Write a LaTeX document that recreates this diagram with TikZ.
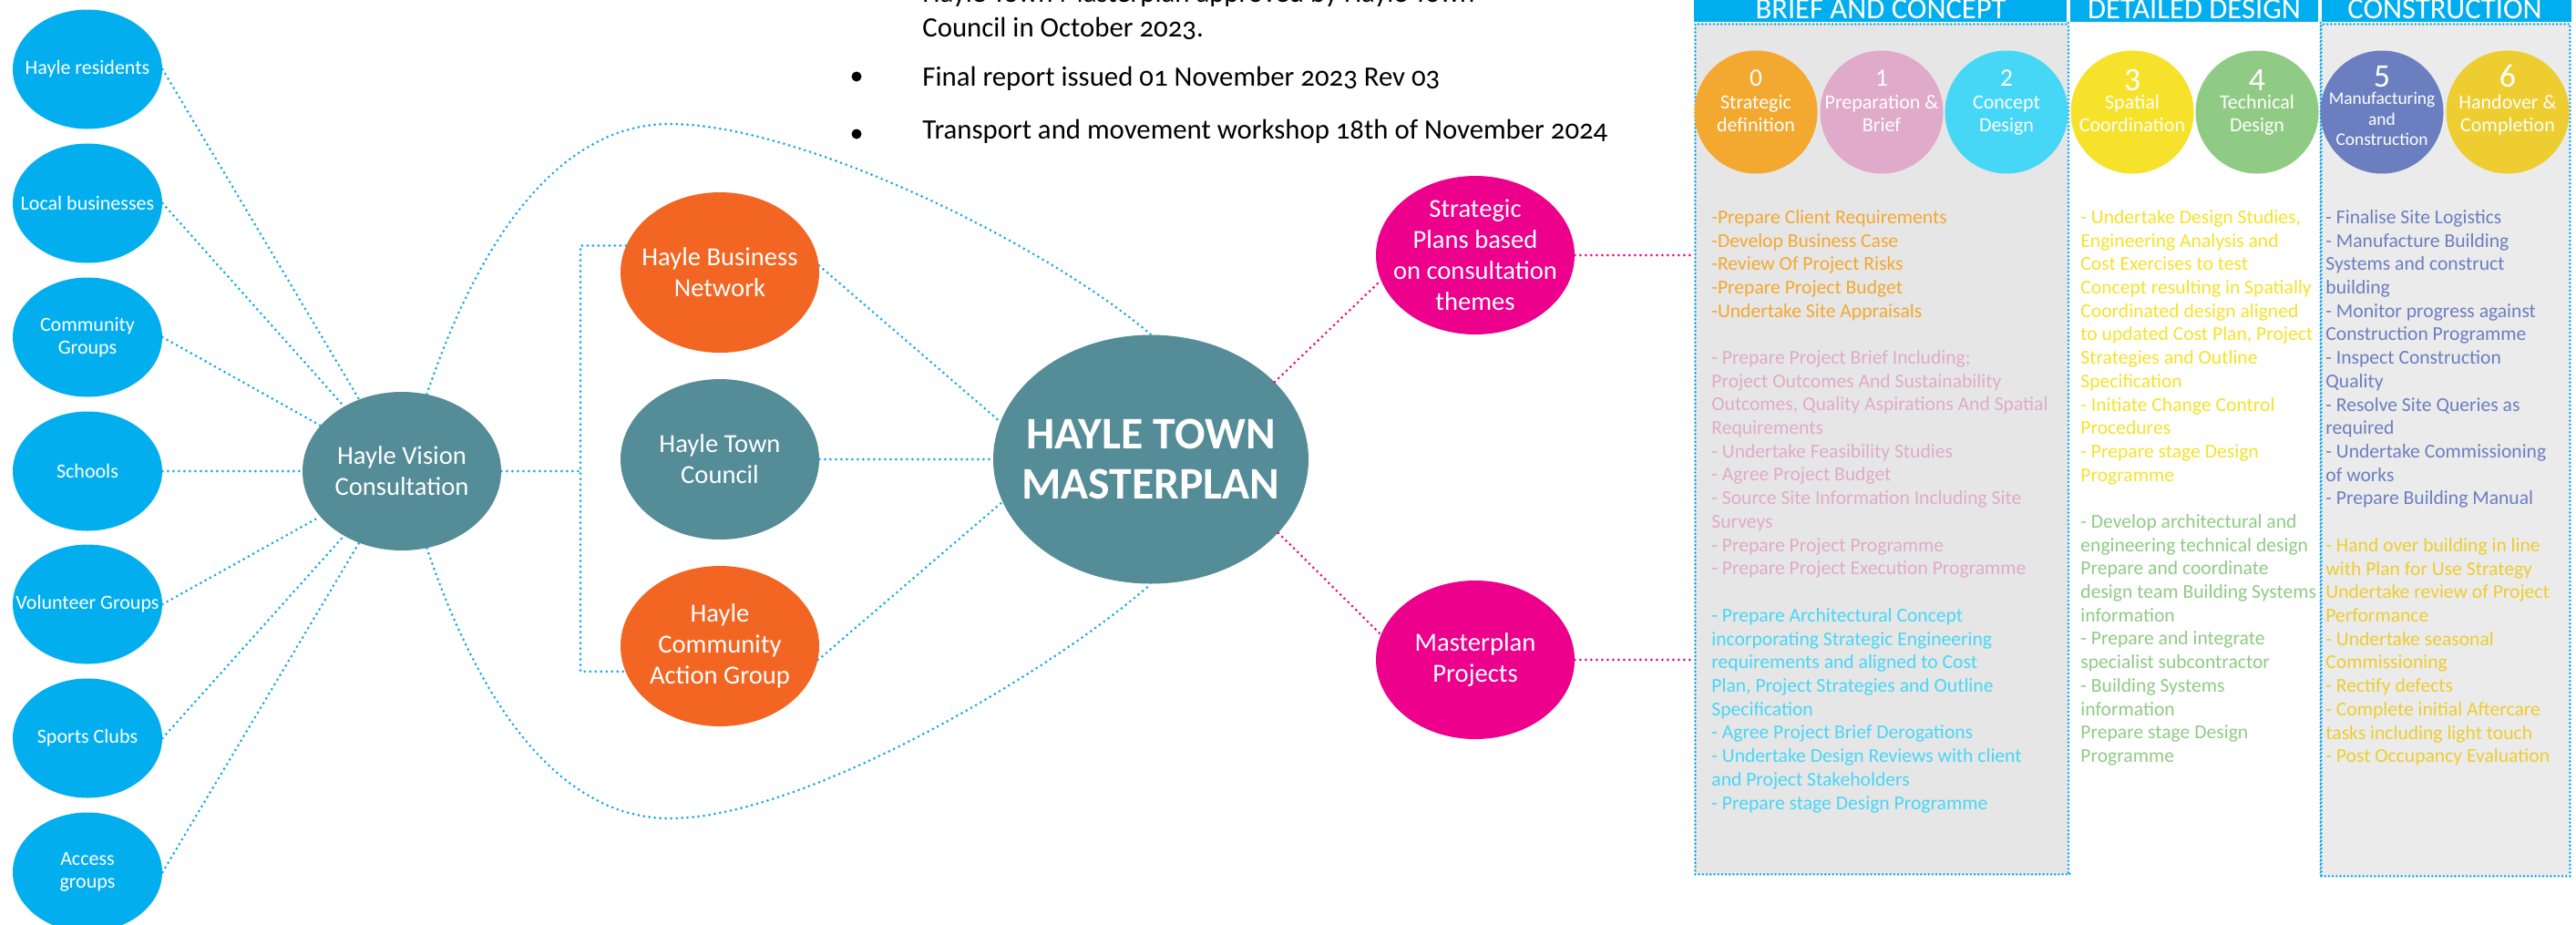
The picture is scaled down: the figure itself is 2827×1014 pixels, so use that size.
\documentclass[tikz,border=0pt]{standalone}
\usepackage{fontspec}
\setmainfont{Carlito}
\newfontfamily\oldnum{Carlito}[Numbers=OldStyle]
\usetikzlibrary{shapes.geometric,calc}
\definecolor{cblue}{HTML}{03AEEF}
\definecolor{lblue}{HTML}{0FA8EC}
\definecolor{teal}{HTML}{548C97}
\definecolor{orng}{HTML}{F26522}
\definecolor{pinkc}{HTML}{EC008C}
\definecolor{hblue}{HTML}{00AEEF}
\definecolor{pgrey}{HTML}{E6E6E6}
\definecolor{pgreyb}{HTML}{EBEBEB}
\definecolor{sa}{HTML}{F3A82F}
\definecolor{sb}{HTML}{E0AACA}
\definecolor{sc}{HTML}{46D7F6}
\definecolor{sd}{HTML}{F6E22A}
\definecolor{se}{HTML}{8FCB84}
\definecolor{sf}{HTML}{6B7FC0}
\definecolor{sg}{HTML}{EDCD2F}
\begin{document}
\begin{tikzpicture}[x=0.5pt,y=-0.5pt,
  bdot/.style={draw=lblue,line width=1.5pt,dash pattern=on 0pt off 3pt,line cap=round},
  pdot/.style={draw=pinkc,line width=1.5pt,dash pattern=on 0pt off 3pt,line cap=round},
  pbord/.style={draw=lblue,line width=1.4pt,dash pattern=on 0pt off 2.1pt,line cap=round},
  bub/.style={ellipse,inner sep=0pt},
  leftc/.style={bub,fill=cblue,minimum width=82pt,minimum height=65.5pt},
  midc/.style={bub,minimum width=109pt,minimum height=88pt},
  ltxt/.style={text=white,align=center,inner sep=0pt,font=\fontsize{11}{12.5}\selectfont},
  mtxt/.style={text=white,align=center,inner sep=0pt,font=\fontsize{14.3}{17}\selectfont},
  stage/.style={circle,inner sep=0pt,minimum size=67.5pt},
  snum/.style={text=white,inner sep=0pt,anchor=base,font=\fontsize{13.7}{14}\selectfont},
  bnum/.style={snum,font=\fontsize{18}{18}\selectfont},
  slab/.style={text=white,align=center,inner sep=0pt,anchor=north,font=\fontsize{11}{12.5}\selectfont},
  ptext/.style={anchor=north west,inner sep=0pt,align=left,font=\fontsize{10.8}{12.85}\selectfont},
  htxt/.style={text=white,inner sep=0pt,anchor=base,font=\fontsize{16.3}{18}\selectfont},
  btxt/.style={inner sep=0pt,anchor=base west,font=\oldnum\fontsize{15.4}{18}\selectfont},
  panel/.style={pbord,anchor=north west,inner sep=0pt}]
\useasboundingbox (0,0) rectangle (2827,1014);
\clip (0,0) rectangle (2827,1014);

% ---------- top bullets ----------
\node[btxt] (b0) at (1012,2) {Hayle Town Masterplan approved by Hayle Town};
\node[btxt] (b1) at (1012,40) {Council in October 2023.};
\node[btxt] (b2) at (1012,94) {Final report issued 01 November 2023 Rev 03};
\node[btxt] (b3) at (1012,152) {Transport and movement workshop 18th of November 2024};
\node[circle,fill=black,inner sep=0pt,minimum size=5.5pt] (d2) at (940,84) {};
\node[circle,fill=black,inner sep=0pt,minimum size=5.5pt] (d3) at (940,147) {};

% ---------- panels ----------
\node[panel,fill=pgrey,minimum width=205.5pt,minimum height=466.5pt] (brief) at (1859,25) {};
\node[inner sep=0pt,anchor=north west,fill=white,minimum width=138pt,minimum height=466.5pt] (detail) at (2270,25) {};
\draw[pbord] (detail.north west) -- (detail.south west);
\draw[pbord] (detail.north east) -- (detail.south east);
\node[panel,fill=pgreyb,minimum width=136.5pt,minimum height=467.5pt] (constr) at (2546,25) {};

\fill[hblue] (1859,-10) rectangle (2268,24);
\fill[hblue] (2272,-10) rectangle (2544,24);
\fill[hblue] (2548,-10) rectangle (2822,24);
\node[htxt] (h1) at (2064,20) {BRIEF AND CONCEPT};
\node[htxt] (h2) at (2408,20) {DETAILED DESIGN};
\node[htxt] (h3) at (2683,20) {CONSTRUCTION};

% stage circles
\node[stage,fill=sa] (s0) at (1927,123) {};
\node[stage,fill=sb] (s1) at (2065,123) {};
\node[stage,fill=sc] (s2) at (2202,123) {};
\node[stage,fill=sd] (s3) at (2340,123) {};
\node[stage,fill=se] (s4) at (2477,123) {};
\node[stage,fill=sf] (s5) at (2614,123) {};
\node[stage,fill=sg] (s6) at (2752,123) {};
\node[snum] at (1927,94) {0};
\node[snum] at (2065,94) {1};
\node[snum] at (2202,94) {2};
\node[bnum] at (2340,99) {3};
\node[bnum] at (2477,99) {4};
\node[bnum] at (2614,95) {5};
\node[bnum] at (2752,95) {6};
\node[slab] at (1927,101) {\rule{0pt}{9pt}Strategic\\definition};
\node[slab] at (2065,101) {\rule{0pt}{9pt}Preparation \&\\Brief};
\node[slab] at (2202,101) {\rule{0pt}{9pt}Concept\\Design};
\node[slab] at (2340,101) {\rule{0pt}{9pt}Spatial\\Coordination};
\node[slab] at (2477,101) {\rule{0pt}{9pt}Technical\\Design};
\node[slab,font=\fontsize{9.7}{11.3}\selectfont] at (2614,98) {\rule{0pt}{8pt}Manufacturing\\and\\Construction};
\node[slab] at (2752,101) {\rule{0pt}{9pt}Handover \&\\Completion};

% panel texts
\node[ptext,text=sa] at (1878,227) {\rule{0pt}{9pt}-Prepare Client Requirements\\-Develop Business Case\\-Review Of Project Risks\\-Prepare Project Budget\\-Undertake Site Appraisals};
\node[ptext,text=sb] at (1878,381) {\rule{0pt}{9pt}- Prepare Project Brief Including;\\Project Outcomes And Sustainability\\Outcomes, Quality Aspirations And Spatial\\Requirements\\- Undertake Feasibility Studies\\- Agree Project Budget\\- Source Site Information Including Site\\Surveys\\- Prepare Project Programme\\- Prepare Project Execution Programme};
\node[ptext,text=sc] at (1878,664) {\rule{0pt}{9pt}- Prepare Architectural Concept\\incorporating Strategic Engineering\\requirements and aligned to Cost\\Plan, Project Strategies and Outline\\Specification\\- Agree Project Brief Derogations\\- Undertake Design Reviews with client\\and Project Stakeholders\\- Prepare stage Design Programme};
\node[ptext,text=sd] at (2283,227) {\rule{0pt}{9pt}- Undertake Design Studies,\\Engineering Analysis and\\Cost Exercises to test\\Concept resulting in Spatially\\Coordinated design aligned\\to updated Cost Plan, Project\\Strategies and Outline\\Specification\\- Initiate Change Control\\Procedures\\- Prepare stage Design\\Programme};
\node[ptext,text=se] at (2283,561) {\rule{0pt}{9pt}- Develop architectural and\\engineering technical design\\Prepare and coordinate\\design team Building Systems\\information\\- Prepare and integrate\\specialist subcontractor\\- Building Systems\\information\\Prepare stage Design\\Programme};
\node[ptext,text=sf] at (2552,227) {\rule{0pt}{9pt}- Finalise Site Logistics\\- Manufacture Building\\Systems and construct\\building\\- Monitor progress against\\Construction Programme\\- Inspect Construction\\Quality\\- Resolve Site Queries as\\required\\- Undertake Commissioning\\of works\\- Prepare Building Manual};
\node[ptext,text=sg] at (2552,587) {\rule{0pt}{9pt}- Hand over building in line\\with Plan for Use Strategy\\Undertake review of Project\\Performance\\- Undertake seasonal\\Commissioning\\- Rectify defects\\- Complete initial Aftercare\\tasks including light touch\\- Post Occupancy Evaluation};

% ---------- left circles ----------
\node[leftc] (l1) at (96,76) {};
\node[leftc] (l2) at (96,223) {};
\node[leftc] (l3) at (96,370) {};
\node[leftc] (l4) at (96,517) {};
\node[leftc] (l5) at (96,663) {};
\node[leftc] (l6) at (96,810) {};
\node[leftc] (l7) at (96,957) {};
\node[ltxt] at (l1) {Hayle residents};
\node[ltxt] at (l2) {Local businesses};
\node[ltxt] at (l3) {Community\\Groups};
\node[ltxt] at (l4) {Schools};
\node[ltxt] at (l5) {Volunteer Groups};
\node[ltxt] at (l6) {Sports Clubs};
\node[ltxt] at (l7) {Access\\groups};

% ---------- middle ----------
\node[midc,fill=teal,minimum height=87pt] (hv) at (441,517) {};
\node[mtxt] at (hv) {Hayle Vision\\Consultation};
\node[midc,fill=orng] (hbn) at (790,299) {};
\node[mtxt] at (hbn) {Hayle Business\\Network};
\node[midc,fill=teal] (htc) at (790,504) {};
\node[mtxt] at (htc) {Hayle Town\\Council};
\node[midc,fill=orng] (hcag) at (790,709) {};
\node[mtxt] at (hcag) {Hayle\\Community\\Action Group};
\node[bub,fill=teal,minimum width=173pt,minimum height=136.5pt] (htm) at (1263,504) {};
\node[text=white,align=center,inner sep=0pt,font=\bfseries\fontsize{24.8}{27.5}\selectfont] at (htm) {HAYLE TOWN\\MASTERPLAN};
\node[midc,fill=pinkc,minimum height=87pt] (sp) at (1619,280) {};
\node[mtxt] at (sp) {Strategic\\Plans based\\on consultation\\themes};
\node[midc,fill=pinkc,minimum height=87pt] (mp) at (1619,724) {};
\node[mtxt] at (mp) {Masterplan\\Projects};

% ---------- connectors ----------
\foreach \n in {l1,l2,l3,l4,l5,l6,l7} \draw[bdot] (\n.east) -- (hv);
\coordinate (bx) at (637,517);
\draw[bdot] (hv.east) -- (hv.east -| bx);
\draw[bdot] (hbn.164) -- (hbn.164 -| bx) -- (hcag.195 -| bx) -- (hcag.195);
\draw[bdot] (hbn.4) -- (htm.166);
\draw[bdot] (htc.east) -- (htm.west);
\draw[bdot] (hcag.-8) -- (htm.196);
\coordinate (ltop) at (735,136);
\coordinate (lbot) at (735,898);
\draw[bdot] (hv.72) .. controls (530,250) and (620,136) .. (ltop) .. controls (880,136) and (1150,270) .. (htm.north);
\draw[bdot] (hv.-72) .. controls (530,784) and (620,898) .. (lbot) .. controls (880,898) and (1150,740) .. (htm.south);
\draw[pdot] (htm.32) -- (sp.195);
\draw[pdot] (htm.-30) -- (mp.165);
\draw[pdot] (sp.east) -- (sp.east -| brief.west);
\draw[pdot] (mp.east) -- (mp.east -| brief.west);
\end{tikzpicture}
\end{document}
